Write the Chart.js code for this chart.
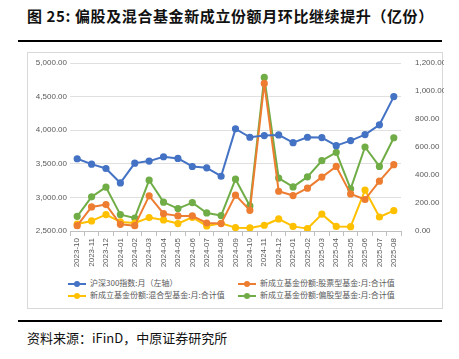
<!DOCTYPE html>
<html>
<head>
<meta charset="utf-8">
<script src="https://cdn.jsdelivr.net/npm/chart.js@4"></script>
<style>
  body { margin: 0; background: #fff; width: 459px; height: 359px; position: relative; overflow: hidden; font-family: "Noto Sans CJK SC", sans-serif; }
  .title { position: absolute; left: 27px; top: 5px; font-size: 15px; font-weight: bold; color: #111; letter-spacing: 0.6px; white-space: nowrap; }
  .rule { position: absolute; left: 18px; width: 424px; height: 2px; background: #000; }
  .box { position: absolute; left: 27px; top: 52px; width: 416px; height: 257px; border: 1px solid #d9d9d9; box-sizing: border-box; }
  .chartwrap { position: absolute; left: 27px; top: 52px; width: 417px; height: 222px; }
  .legend { position: absolute; font-size: 8px; color: #595959; white-space: nowrap; line-height: 10px; }
  .legend i { display: inline-block; position: relative; width: 18px; height: 2px; vertical-align: middle; margin-right: 4px; }
  .legend i b { position: absolute; left: 6px; top: -2px; width: 6px; height: 6px; border-radius: 50%; background: inherit; }
  .source { position: absolute; left: 27px; top: 328px; font-size: 13px; color: #111; white-space: nowrap; }
</style>
</head>
<body>
<div class="title">图 25: 偏股及混合基金新成立份额月环比继续提升（亿份）</div>
<div class="rule" style="top:40px"></div>
<div class="box"></div>
<div class="chartwrap"><canvas id="c"></canvas></div>
<div id="legend"></div>
<div class="rule" style="top:320px"></div>
<div class="source">资料来源：iFinD，中原证券研究所</div>
<script>
const months = ["2023-10","2023-11","2023-12","2024-01","2024-02","2024-03","2024-04","2024-05","2024-06","2024-07","2024-08","2024-09","2024-10","2024-11","2024-12","2025-01","2025-02","2025-03","2025-04","2025-05","2025-06","2025-07","2025-08"];
// 沪深300 (left axis)
const hs300 = [3575,3495,3430,3215,3510,3540,3605,3580,3460,3440,3315,4020,3895,3920,3930,3815,3895,3890,3770,3845,3935,4080,4500];
// right axis, 亿份
const stockFund = [38,172,189,48,38,251,124,108,108,57,53,256,148,1054,284,253,306,385,461,265,225,356,474];
const mixedFund = [50,72,117,65,57,96,79,53,98,36,55,24,22,41,86,33,17,120,33,31,292,100,145];
const equityBiasFund = [105,244,313,117,93,363,206,160,203,129,110,370,179,1097,378,315,387,502,562,301,600,461,666];

const seriesNames = ["沪深300指数:月（左轴）","新成立基金份额:股票型基金:月:合计值","新成立基金份额:混合型基金:月:合计值","新成立基金份额:偏股型基金:月:合计值"];
const colors = ["#4472C4","#ED7D31","#FFC000","#70AD47"];

function ds(label, data, color, axis) {
  return { label: label, data: data, borderColor: color, backgroundColor: color, yAxisID: axis,
    borderWidth: 2, borderJoinStyle: "round", borderCapStyle: "round",
    pointRadius: 2.6, pointHoverRadius: 2.6, tension: 0 };
}

new Chart(document.getElementById("c"), {
  type: "line",
  data: {
    labels: months,
    datasets: [
      ds(seriesNames[0], hs300, colors[0], "y"),
      ds(seriesNames[1], stockFund, colors[1], "y1"),
      ds(seriesNames[2], mixedFund, colors[2], "y1"),
      ds(seriesNames[3], equityBiasFund, colors[3], "y1")
    ]
  },
  options: {
    responsive: true,
    maintainAspectRatio: false,
    animation: false,
    layout: { padding: { top: 11, left: 0, right: 0, bottom: 0 } },
    plugins: { legend: { display: false }, tooltip: { enabled: false } },
    scales: {
      x: {
        offset: true,
        grid: { offset: true, drawOnChartArea: false, drawTicks: true, tickLength: 5, color: "#bfbfbf" },
        border: { color: "#bfbfbf" },
        ticks: { minRotation: 90, maxRotation: 90, autoSkip: false, color: "#595959", font: { family: "Liberation Sans", size: 8 }, padding: 2 },
        afterFit: s => { s.height = 43; }
      },
      y: {
        position: "left", min: 2500, max: 5000,
        ticks: { stepSize: 500, color: "#595959", font: { family: "Liberation Sans", size: 8 },
          callback: v => v.toLocaleString("en-US", { minimumFractionDigits: 2, maximumFractionDigits: 2 }) },
        grid: { color: "#e0e0e0", drawTicks: false },
        border: { display: false },
        afterFit: s => { s.width = 43; }
      },
      y1: {
        position: "right", min: 0, max: 1200,
        ticks: { stepSize: 200, color: "#595959", font: { family: "Liberation Sans", size: 8 }, padding: 6,
          callback: v => v.toLocaleString("en-US", { minimumFractionDigits: 2, maximumFractionDigits: 2 }) },
        grid: { display: false },
        border: { display: false },
        afterFit: s => { s.width = 43; }
      }
    }
  }
});

// legend in two columns
const legendPos = [[68,278],[238,278],[68,290],[238,290]];
const lg = document.getElementById("legend");
seriesNames.forEach((n, i) => {
  const d = document.createElement("div");
  d.className = "legend";
  d.style.left = legendPos[i][0] + "px";
  d.style.top = legendPos[i][1] + "px";
  d.innerHTML = '<i style="background:' + colors[i] + '"><b></b></i>' + n;
  lg.appendChild(d);
});
</script>
</body>
</html>
